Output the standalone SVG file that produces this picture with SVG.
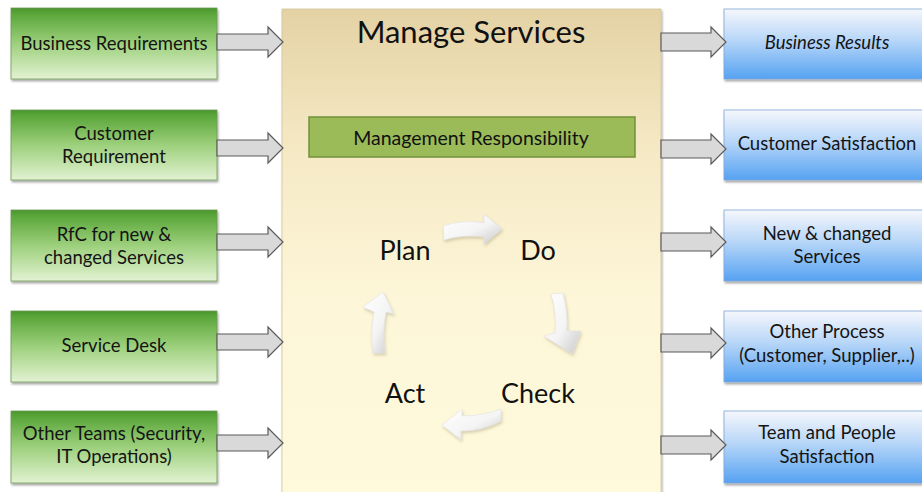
<svg xmlns="http://www.w3.org/2000/svg" width="922" height="492" viewBox="0 0 922 492">
  <defs>
    <linearGradient id="gGreen" x1="0" y1="0" x2="0" y2="1">
      <stop offset="0" stop-color="#4a962c"/>
      <stop offset="0.08" stop-color="#5aa63a"/>
      <stop offset="0.5" stop-color="#9dd07c"/>
      <stop offset="1" stop-color="#e2f2d2"/>
    </linearGradient>
    <linearGradient id="gBlue" x1="0" y1="0" x2="0" y2="1">
      <stop offset="0" stop-color="#f6f7fc"/>
      <stop offset="0.45" stop-color="#b7d6f8"/>
      <stop offset="1" stop-color="#55a2f2"/>
    </linearGradient>
    <linearGradient id="gPanel" x1="0" y1="0" x2="0" y2="1">
      <stop offset="0" stop-color="#e4d2a4"/>
      <stop offset="0.3" stop-color="#f6eac6"/>
      <stop offset="0.6" stop-color="#fdf6d8"/>
      <stop offset="1" stop-color="#fffadc"/>
    </linearGradient>
    <linearGradient id="gCycle" x1="0" y1="0" x2="1" y2="1">
      <stop offset="0" stop-color="#ffffff"/>
      <stop offset="0.55" stop-color="#f4f4f4"/>
      <stop offset="1" stop-color="#c8c8c8"/>
    </linearGradient>
    <filter id="shadow" x="-10%" y="-10%" width="125%" height="130%">
      <feDropShadow dx="1" dy="2" stdDeviation="1.2" flood-color="#000" flood-opacity="0.35"/>
    </filter>
    <filter id="softShadow" x="-30%" y="-30%" width="160%" height="160%">
      <feDropShadow dx="1" dy="2" stdDeviation="1.5" flood-color="#8a8060" flood-opacity="0.35"/>
    </filter>
  </defs>
  <style>
    .in { fill: url(#gGreen); stroke: #6f9a55; stroke-width: 0.8; filter: url(#shadow); }
    .out { fill: url(#gBlue); stroke: #7fa6d4; stroke-width: 0.8; filter: url(#shadow); }
    .lbl { font-family: Lato, "Open Sans", "Liberation Sans", sans-serif; font-size: 18.5px; fill: #141414; text-anchor: middle; }
    .big { font-family: Lato, "Open Sans", "Liberation Sans", sans-serif; fill: #111; text-anchor: middle; }
    .flow { fill: #d9d9d9; stroke: #5a5a5a; stroke-width: 1.2; stroke-linejoin: miter; }
    .cyc { fill: url(#gCycle); stroke: #e2e2e2; stroke-width: 0.6; filter: url(#softShadow); }
  </style>

  <rect width="922" height="492" fill="#ffffff"/>

  <!-- central process panel -->
  <g id="manage-services">
    <rect x="282" y="9" width="379" height="490" fill="url(#gPanel)" stroke="#cfc3a0" stroke-width="0.8" filter="url(#shadow)"/>
    <text class="big" x="471" y="43" font-size="31">Manage Services</text>
  </g>

  <g id="management-responsibility">
    <rect x="309" y="117" width="326" height="40" fill="#9bbb59" stroke="#71913a" stroke-width="1.5"/>
    <text class="big" x="471" y="145" font-size="19.5">Management Responsibility</text>
  </g>

  <!-- PDCA cycle -->
  <g id="pdca">
    <text class="big" x="405" y="260" font-size="27">Plan</text>
    <text class="big" x="538" y="260" font-size="27">Do</text>
    <text class="big" x="538" y="403" font-size="27">Check</text>
    <text class="big" x="405" y="403" font-size="27">Act</text>
    <path class="cyc" d="M443,226 Q464,219 484,223 L484,214 L502,229 L484,244 L484,237 Q464,234 444,240 Z"/>
    <path class="cyc" d="M551,294 L563,293 Q568,312 567,331 L581,331 L572,354 L544,336 L555,333 Q557,313 551,294 Z"/>
    <path class="cyc" d="M501,409 Q482,416 462,416 L462,409 L442,425 L461,440 L461,431 Q483,431 501,421 Z"/>
    <path class="cyc" d="M373,353 Q370,332 374,312 L363,307 L383,292 L394,314 L386,312 Q382,333 385,353 Z"/>
  </g>

  <!-- inputs -->
  <g id="in-business-requirements">
    <rect class="in" x="11" y="8" width="206" height="71"/>
    <text class="lbl" x="114" y="50">Business Requirements</text>
  </g>
  <g id="in-customer-requirement">
    <rect class="in" x="11" y="110" width="206" height="70"/>
    <text class="lbl" x="114" y="140">Customer</text>
    <text class="lbl" x="114" y="163">Requirement</text>
  </g>
  <g id="in-rfc">
    <rect class="in" x="11" y="210" width="206" height="71"/>
    <text class="lbl" x="114" y="241">RfC  for new &amp;</text>
    <text class="lbl" x="114" y="264">changed Services</text>
  </g>
  <g id="in-service-desk">
    <rect class="in" x="11" y="311" width="206" height="71"/>
    <text class="lbl" x="114" y="352">Service Desk</text>
  </g>
  <g id="in-other-teams">
    <rect class="in" x="11" y="411" width="206" height="72"/>
    <text class="lbl" x="114" y="440">Other Teams (Security,</text>
    <text class="lbl" x="114" y="463">IT Operations)</text>
  </g>

  <!-- outputs -->
  <g id="out-business-results">
    <rect class="out" x="724" y="9" width="212" height="70"/>
    <text class="lbl" x="827" y="49" font-style="italic">Business Results</text>
  </g>
  <g id="out-customer-satisfaction">
    <rect class="out" x="724" y="110" width="212" height="70"/>
    <text class="lbl" x="827" y="150">Customer Satisfaction</text>
  </g>
  <g id="out-new-changed-services">
    <rect class="out" x="724" y="210" width="212" height="71"/>
    <text class="lbl" x="827" y="240">New &amp; changed</text>
    <text class="lbl" x="827" y="263">Services</text>
  </g>
  <g id="out-other-process">
    <rect class="out" x="724" y="311" width="212" height="71"/>
    <text class="lbl" x="827" y="338">Other Process</text>
    <text class="lbl" x="827" y="362">(Customer, Supplier,..)</text>
  </g>
  <g id="out-team-people">
    <rect class="out" x="724" y="411" width="212" height="72"/>
    <text class="lbl" x="827" y="439">Team and People</text>
    <text class="lbl" x="827" y="463">Satisfaction</text>
  </g>

  <!-- block arrows into and out of the panel -->
  <g id="connectors">
    <path class="flow" d="M217,34 H268 V27 L283,42 L268,57 V50 H217 Z"/>
    <path class="flow" d="M217,140 H268 V133 L283,148 L268,163 V156 H217 Z"/>
    <path class="flow" d="M217,234 H268 V227 L283,242 L268,257 V250 H217 Z"/>
    <path class="flow" d="M217,334 H268 V327 L283,342 L268,357 V350 H217 Z"/>
    <path class="flow" d="M217,435 H268 V428 L283,443 L268,458 V451 H217 Z"/>

    <path class="flow" d="M661,33 H711 V27 L726,42 L711,57 V51 H661 Z"/>
    <path class="flow" d="M661,140 H711 V134 L726,149 L711,164 V158 H661 Z"/>
    <path class="flow" d="M661,233 H711 V227 L726,242 L711,257 V251 H661 Z"/>
    <path class="flow" d="M661,334 H711 V328 L726,343 L711,358 V352 H661 Z"/>
    <path class="flow" d="M661,436 H711 V430 L726,445 L711,460 V454 H661 Z"/>
  </g>
</svg>
